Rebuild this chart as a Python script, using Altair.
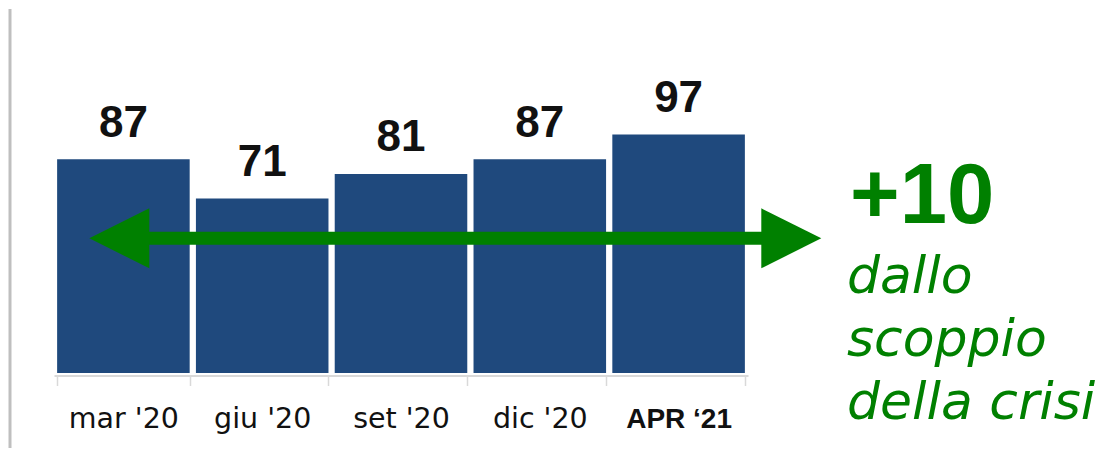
import altair as alt
import pandas as pd

periods = ["mar '20", "giu '20", "set '20", "dic '20", "APR ‘21"]
values = [87, 71, 81, 87, 97]
headline = "+10"
note_lines = ["dallo", "scoppio", "della crisi"]

df = pd.DataFrame({"period": periods, "value": values})
one = pd.DataFrame({"k": [0]})

GREEN = "#008000"
BAR = "#1F497D"

x_enc = alt.X(
    "period:N",
    sort=periods,
    title=None,
    scale=alt.Scale(paddingInner=0.045, paddingOuter=0.0225),
    axis=alt.Axis(
        labelAngle=0,
        domainColor="#d9d9d9",
        domainWidth=2,
        tickColor="#d9d9d9",
        tickWidth=1.5,
        tickSize=10,
        tickBand="extent",
        offset=2.5,
        labelPadding=41.5,
        labelBaseline="alphabetic",
        labelColor="#111111",
        labelFont={"condition": {"test": "datum.value === 'APR ‘21'", "value": "Liberation Sans"}, "value": "DejaVu Sans"},
        labelFontWeight={"condition": {"test": "datum.value === 'APR ‘21'", "value": "bold"}, "value": "normal"},
        labelFontSize={"condition": {"test": "datum.value === 'APR ‘21'", "value": 28}, "value": 28.5},
        grid=False,
    ),
)
y_enc = alt.Y("value:Q", axis=None, scale=alt.Scale(domain=[0, 147.7], nice=False, zero=True))

base = alt.Chart(df)
bars = base.mark_bar(color=BAR).encode(x=x_enc, y=y_enc)
labels = base.mark_text(
    font="Liberation Sans", fontWeight="bold", fontSize=44, color="#111111",
    baseline="alphabetic", dy=-22.5,
).encode(x=alt.X("period:N", sort=periods), y=y_enc, text="value:Q")

ann = alt.Chart(one)
left_line = ann.mark_rule(color="#bfbfbf", strokeWidth=3).encode(
    x=alt.value(-44), y=alt.value(-1), y2=alt.value(440))
shaft = ann.mark_rule(color=GREEN, strokeWidth=13, strokeCap="butt").encode(
    x=alt.value(90), x2=alt.value(712), y=alt.value(228.3))
head_r = ann.mark_point(shape="M-1,-1L1,0L-1,1Z", filled=True, size=3600, opacity=1,
                        color=GREEN, strokeWidth=0).encode(x=alt.value(737.3), y=alt.value(228.3))
head_l = ann.mark_point(shape="M1,-1L-1,0L1,1Z", filled=True, size=3600, opacity=1,
                        color=GREEN, strokeWidth=0).encode(x=alt.value(65.3), y=alt.value(228.3))
big = ann.mark_text(font="Liberation Sans", fontWeight="bold", fontSize=85, color=GREEN,
                    align="left", baseline="alphabetic", text=headline).encode(
    x=alt.value(796), y=alt.value(213))
note = ann.mark_text(font="DejaVu Sans", fontStyle="italic", fontSize=52, color=GREEN,
                     align="left", baseline="alphabetic", lineHeight=63, text=note_lines).encode(
    x=alt.value(793), y=alt.value(283.3))

chart = alt.layer(bars, labels, left_line, shaft, head_r, head_l, big, note).properties(
    width=694, height=363,
    background="white",
    autosize=alt.AutoSizeParams(type="none"),
    padding={"left": 46, "top": 2, "right": 353, "bottom": 75},
).configure_view(strokeWidth=0, stroke="transparent")

chart.save("out.html", embed_options={"renderer": "svg", "actions": False})
